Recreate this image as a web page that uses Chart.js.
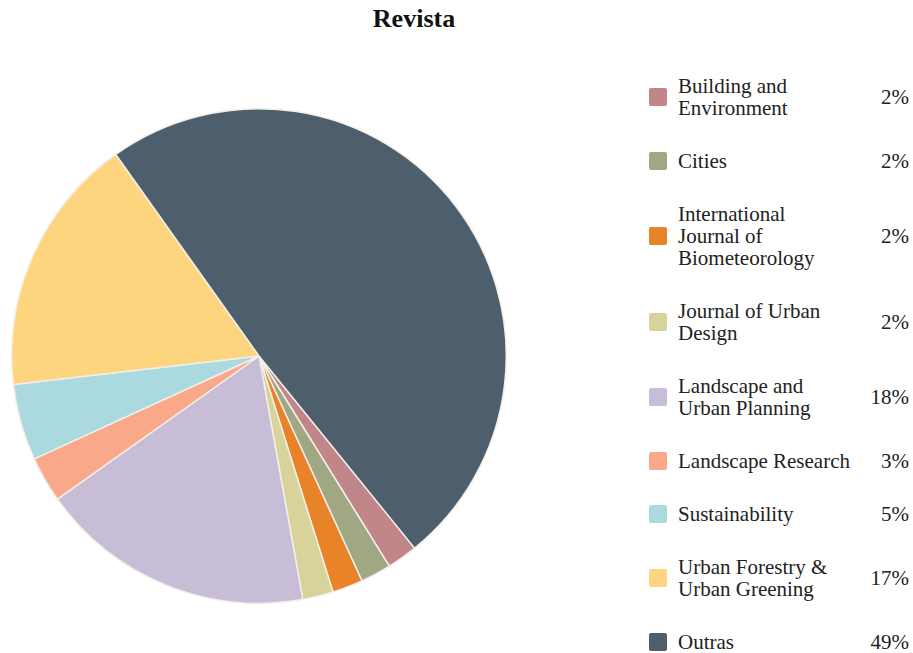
<!DOCTYPE html>
<html>
<head>
<meta charset="utf-8">
<script src="https://cdn.jsdelivr.net/npm/chart.js@4.4.0/dist/chart.umd.min.js"></script>
<style>
  body { margin: 0; background: #fff; width: 913px; height: 653px; position: relative; overflow: hidden; font-family: "Liberation Serif", "Times New Roman", serif; }
  #title { position: absolute; left: 414px; top: 4px; transform: translateX(-50%); font-size: 26px; font-weight: bold; color: #111; }
  #pieWrap { position: absolute; left: 11px; top: 108px; width: 496px; height: 496px; }
  #legend { position: absolute; left: 649px; top: 75px; width: 260px; }
  .row { display: flex; align-items: center; margin-bottom: 31px; font-size: 21px; line-height: 22px; color: #222; }
  .sw { width: 18px; height: 18px; border-radius: 2px; flex: none; margin-right: 11px; }
  .lbl { flex: 1; }
  .pct { flex: none; text-align: right; }
</style>
</head>
<body>
<div id="title">Revista</div>
<div id="pieWrap"><canvas id="pie"></canvas></div>
<div id="legend"></div>
<script>
// Data
const journals = [
    ["Building and", "Environment"],
    ["Cities"],
    ["International", "Journal of", "Biometeorology"],
    ["Journal of Urban", "Design"],
    ["Landscape and", "Urban Planning"],
    ["Landscape Research"],
    ["Sustainability"],
    ["Urban Forestry &", "Urban Greening"],
    ["Outras"]
];
const shares = [2, 2, 2, 2, 18, 3, 5, 17, 49];
const sliceColors = ["#c0868a", "#9fa883", "#e8832a", "#d8d39a", "#c8bdd6", "#f9a98a", "#aad9e0", "#fcd57e", "#4d5e6d"];

const total = shares.reduce((a, b) => a + b, 0);

// Legend built from the same arrays
const legend = document.getElementById("legend");
journals.forEach((lines, i) => {
    const row = document.createElement("div");
    row.className = "row";
    row.innerHTML = `<span class="sw" style="background:${sliceColors[i]}"></span>` +
        `<span class="lbl">${lines.join("<br>")}</span>` +
        `<span class="pct">${Math.round(shares[i] / total * 100)}%</span>`;
    legend.append(row);
});

// Pie
new Chart(document.getElementById("pie"), {
    type: "pie",
    data: {
        labels: journals.map(l => l.join(" ")),
        datasets: [{
            data: shares,
            backgroundColor: sliceColors,
            borderColor: "#f3efe8",
            borderWidth: 1.5
        }]
    },
    options: {
        responsive: true,
        maintainAspectRatio: false,
        animation: false,
        rotation: 141,
        layout: { padding: 0 },
        plugins: {
            legend: { display: false },
            tooltip: { enabled: false }
        }
    }
});
</script>
</body>
</html>
